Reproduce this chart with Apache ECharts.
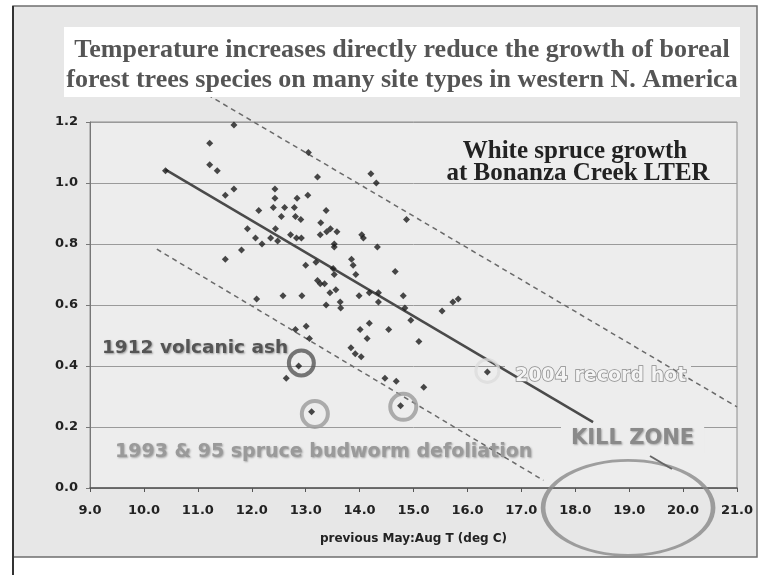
<!DOCTYPE html>
<html>
<head>
<meta charset="utf-8">
<title>White spruce growth at Bonanza Creek LTER</title>
<script src="https://cdn.jsdelivr.net/npm/echarts@6/dist/echarts.min.js"></script>
<style>
    html, body { margin: 0; padding: 0; background: #fff; }
    #chart { width: 759px; height: 575px; }
</style>
</head>
<body>
<div id="chart"></div>
<script>
// growth index vs previous May:Aug temperature
var temps = [10.40, 11.22, 11.67, 11.22, 11.36, 11.51, 11.67, 12.13, 12.43, 12.43,
    12.40, 12.84, 13.04, 13.05, 12.61, 12.79, 12.55, 12.81, 12.91, 11.92,
    12.44, 12.07, 12.35, 12.19, 12.48, 12.72, 12.83, 12.92, 13.27, 11.81,
    11.51, 13.00, 13.19, 13.22, 14.21, 14.31, 13.38, 14.87, 13.28, 13.46,
    13.39, 13.58, 14.04, 14.07, 13.53, 13.53, 14.33, 13.85, 13.88, 13.93,
    13.51, 13.53, 14.66, 13.22, 13.27, 13.35, 13.45, 13.56, 13.99, 14.18,
    14.35, 14.35, 14.81, 14.84, 14.95, 15.53, 15.73, 15.83, 12.09, 12.58,
    12.93, 13.38, 13.64, 13.65, 13.01, 12.81, 13.07, 14.18, 14.01, 14.54,
    14.14, 15.10, 13.84, 13.92, 14.03, 12.87, 12.64, 14.47, 14.68, 15.19,
    16.37, 13.11, 14.76];
var growth = [1.04, 1.13, 1.19, 1.06, 1.04, 0.96, 0.98, 0.91, 0.98, 0.95,
    0.92, 0.95, 0.96, 1.10, 0.92, 0.92, 0.89, 0.89, 0.88, 0.85,
    0.85, 0.82, 0.82, 0.80, 0.81, 0.83, 0.82, 0.82, 0.83, 0.78,
    0.75, 0.73, 0.74, 1.02, 1.03, 1.00, 0.91, 0.88, 0.87, 0.85,
    0.84, 0.84, 0.83, 0.82, 0.80, 0.79, 0.79, 0.75, 0.73, 0.70,
    0.72, 0.70, 0.71, 0.68, 0.67, 0.67, 0.64, 0.65, 0.63, 0.64,
    0.64, 0.61, 0.63, 0.59, 0.55, 0.58, 0.61, 0.62, 0.62, 0.63,
    0.63, 0.60, 0.61, 0.59, 0.53, 0.52, 0.49, 0.54, 0.52, 0.52,
    0.49, 0.48, 0.46, 0.44, 0.43, 0.40, 0.36, 0.36, 0.35, 0.33,
    0.38, 0.25, 0.27];

// regression line and the two dashed bounds
var trendT = [10.40, 18.33];
var trendG = [1.044, 0.216];
var upperT = [11.04, 21.0];
var upperG = [1.304, 0.266];
var lowerT = [10.24, 17.41];
var lowerG = [0.783, 0.025];

// circled years: 1912, 1993, 1995, 2004
var ringT = [12.92, 13.17, 14.81, 16.37];
var ringG = [0.41, 0.243, 0.266, 0.384];
// kill zone ellipse centre
var killT = [18.98];
var killG = [-0.065];

var ringColors = ['#555', '#9a9a9a', '#9a9a9a', '#dcdcdc'];
var ringSizes = [25, 26, 26, 23];

function pairs(xs, ys) {
    var out = [];
    for (var i = 0; i < xs.length; i++) {
        out.push([xs[i], ys[i]]);
    }
    return out;
}

var sans = '"DejaVu Sans", Verdana, sans-serif';
var serif = '"Liberation Serif", "Times New Roman", serif';

function txt(text, x, y, font, fill, align, extra) {
    var style = {
        text: text, x: x, y: y, font: font, fill: fill,
        align: align, textAlign: align,
        verticalAlign: 'middle', textVerticalAlign: 'middle'
    };
    for (var k in extra) style[k] = extra[k];
    return {type: 'text', z: 100, style: style};
}

var option = {
    backgroundColor: '#fff',
    animation: false,
    grid: {
        left: 90, right: 22, top: 122, bottom: 87,
        show: true,
        backgroundColor: '#ededed',
        borderColor: '#8c8c8c',
        borderWidth: 1
    },
    xAxis: {
        type: 'value',
        min: 9, max: 21, interval: 1,
        name: 'previous May:Aug T (deg C)',
        nameLocation: 'middle',
        nameGap: 45,
        nameTextStyle: {fontFamily: sans, fontWeight: 'bold', fontSize: 12, color: '#222'},
        axisLine: {show: true, onZero: false, lineStyle: {color: '#555', width: 1.5}},
        axisTick: {show: true, length: 4, lineStyle: {color: '#555'}},
        axisLabel: {
            margin: 16, color: '#222', fontFamily: sans, fontWeight: 'bold', fontSize: 13,
            formatter: function (v) { return v.toFixed(1); }
        },
        splitLine: {show: false}
    },
    yAxis: {
        type: 'value',
        min: 0, max: 1.2, interval: 0.2,
        axisLine: {show: true, lineStyle: {color: '#777', width: 1}},
        axisTick: {show: true, length: 4, lineStyle: {color: '#777'}},
        axisLabel: {
            margin: 12, color: '#222', fontFamily: sans, fontWeight: 'bold', fontSize: 13,
            formatter: function (v) { return v.toFixed(1); }
        },
        splitLine: {show: true, lineStyle: {color: '#9a9a9a', width: 1}}
    },
    series: [
        {
            name: 'upper',
            type: 'line',
            clip: false,
            symbol: 'none',
            data: pairs(upperT, upperG),
            lineStyle: {color: '#6a6a6a', width: 1.5, type: [5, 4]},
            z: 3
        },
        {
            name: 'lower',
            type: 'line',
            symbol: 'none',
            data: pairs(lowerT, lowerG),
            lineStyle: {color: '#6a6a6a', width: 1.5, type: [5, 4]},
            z: 3
        },
        {
            name: 'trend',
            type: 'line',
            symbol: 'none',
            data: pairs(trendT, trendG),
            lineStyle: {color: '#4a4a4a', width: 2.5},
            z: 4
        },
        {
            name: 'growth',
            type: 'scatter',
            symbol: 'diamond',
            symbolSize: 7,
            data: pairs(temps, growth),
            itemStyle: {color: '#1c1c1c'},
            z: 5
        },
        {
            name: 'rings',
            type: 'scatter',
            symbol: 'circle',
            data: pairs(ringT, ringG).map(function (p, i) {
                return {
                    value: p,
                    symbolSize: ringSizes[i],
                    itemStyle: {color: 'transparent', borderColor: ringColors[i], borderWidth: i == 3 ? 3 : 4}
                };
            }),
            z: 6
        },
        {
            name: 'kill zone',
            type: 'scatter',
            clip: false,
            symbol: 'circle',
            symbolSize: [170, 95],
            data: pairs(killT, killG),
            itemStyle: {color: 'transparent', borderColor: '#8a8a8a', borderWidth: 3.5},
            z: 20
        }
    ],
    graphic: [
        // outer frame
        {
            type: 'rect', z: -10,
            shape: {x: 13, y: 6, width: 744, height: 551},
            style: {fill: '#e7e7e7', stroke: '#6f6f6f', lineWidth: 1.5}
        },
        {
            type: 'line', z: -9,
            shape: {x1: 13, y1: 6, x2: 13, y2: 575},
            style: {stroke: '#333', lineWidth: 2}
        },
        // title box
        {
            type: 'rect', z: 50,
            shape: {x: 64, y: 27, width: 676, height: 70},
            style: {fill: '#ffffff'}
        },
        txt('Temperature increases directly reduce the growth of boreal', 402, 50,
            'bold 26px ' + serif, '#555', 'center', {}),
        txt('forest trees species on many site types in western N. America', 402, 80,
            'bold 26px ' + serif, '#555', 'center', {}),
        txt('White spruce growth', 575, 152, 'bold 25px ' + serif, '#222', 'center', {}),
        txt('at Bonanza Creek LTER', 578, 174, 'bold 25px ' + serif, '#222', 'center', {}),
        txt('1912 volcanic ash', 102, 348, 'bold 18.5px ' + sans, '#555', 'left', {
            textShadowColor: 'rgba(0,0,0,0.35)', textShadowBlur: 2, textShadowOffsetX: 1, textShadowOffsetY: 1
        }),
        txt('1993 & 95 spruce budworm defoliation', 115, 452, 'bold 19px ' + sans, '#9a9a9a', 'left', {
            textShadowColor: 'rgba(0,0,0,0.3)', textShadowBlur: 2, textShadowOffsetX: 1, textShadowOffsetY: 1
        }),
        // patch behind "2004 record hot" hiding the grid line
        {
            type: 'rect', z: 1,
            shape: {x: 505, y: 362, width: 186, height: 26},
            style: {fill: '#ededed'}
        },
        txt('2004 record hot', 515, 376, 'bold 19px ' + sans, '#f4f4f4', 'left', {
            stroke: '#8a8a8a', lineWidth: 1.5
        }),
        txt('KILL ZONE', 561, 439, 'bold 21px ' + sans, '#8a8a8a', 'left', {
            backgroundColor: '#ededed', padding: [4, 10, 4, 10],
            textShadowColor: 'rgba(0,0,0,0.3)', textShadowBlur: 2, textShadowOffsetX: 1, textShadowOffsetY: 1
        }),
        {
            type: 'line', z: 60,
            shape: {x1: 650, y1: 456, x2: 672, y2: 469},
            style: {stroke: '#666', lineWidth: 2}
        }
    ]
};

window.onload = function () {
    var myChart = echarts.init(document.getElementById('chart'));
    myChart.setOption(option);
};
</script>
</body>
</html>
